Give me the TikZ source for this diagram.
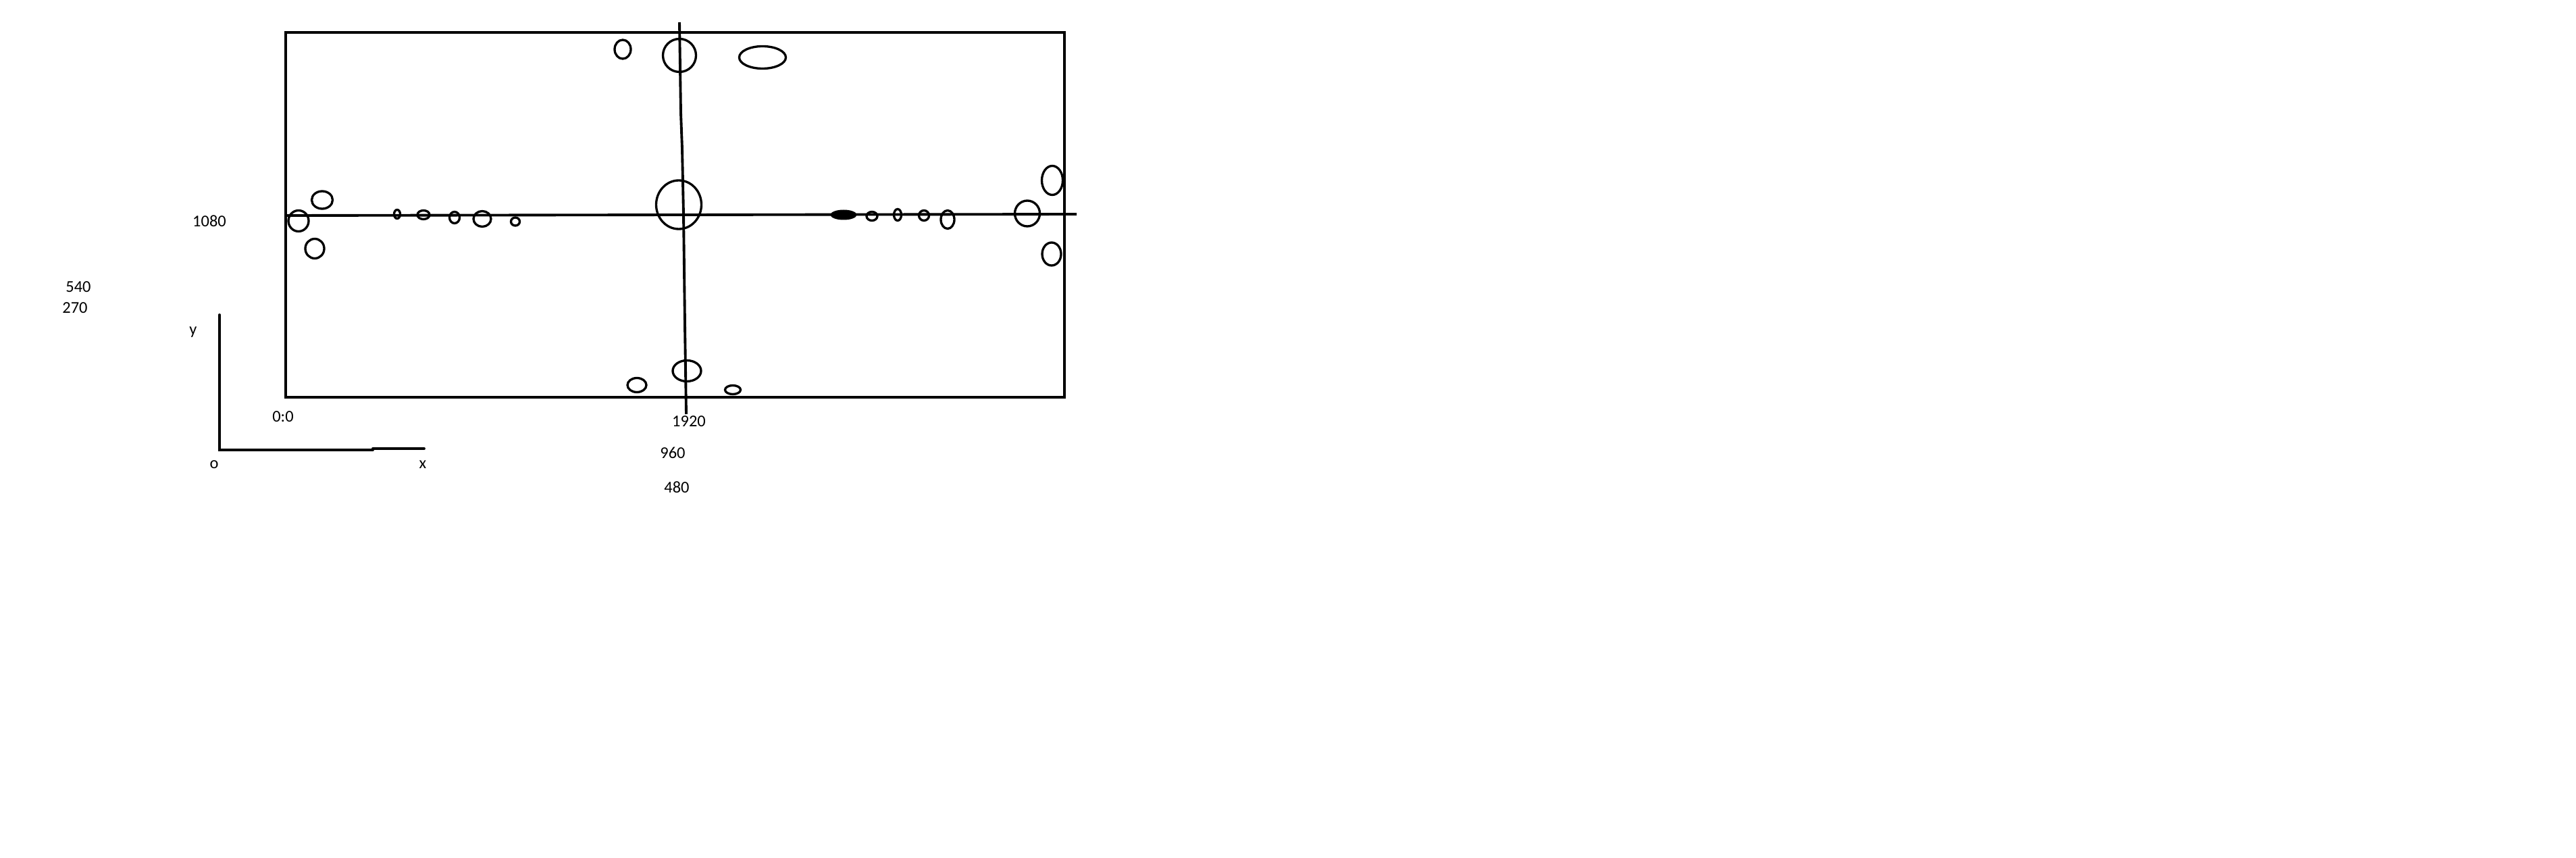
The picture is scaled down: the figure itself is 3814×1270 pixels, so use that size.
\documentclass[tikz,border=0pt]{standalone}
\usepackage{fontspec}
\setmainfont{Carlito}
\begin{document}
\begin{tikzpicture}[x=0.01cm, y=-0.01cm,
  frame/.style={line width=1.28pt},
  mainline/.style={line width=1.1pt},
  axisline/.style={line width=1.1pt, line cap=round},
  blob/.style={line width=0.95pt},
  lbl/.style={inner sep=0pt, anchor=base, font=\fontsize{6.95pt}{8pt}\selectfont}]
\useasboundingbox (0,0) rectangle (3814,1270);
\fill[white] (0,0) rectangle (3814,1270);

% frame
\draw[frame] (423,48) rectangle (1576,588);

% main horizontal and vertical lines
\coordinate (hL) at (425,319);
\coordinate (hR) at (1594,317);
\draw[mainline] (hL) -- (hR);
\coordinate (vT) at (1006,33);
\coordinate (v1) at (1008,167);
\coordinate (v2) at (1010,220);
\coordinate (v3) at (1012,317);
\coordinate (v4) at (1014,480);
\coordinate (vB) at (1016,613);
\draw[mainline] (vT) -- (v1) -- (v2) -- (v3) -- (v4) -- (vB);

% axes
\coordinate (aT) at (325,466);
\coordinate (aO) at (325,666);
\coordinate (aM1) at (552,666);
\coordinate (aM2) at (552,664);
\coordinate (aR) at (628,664);
\draw[axisline] (aT) -- (aO) -- (aM1);
\draw[axisline] (aM2) -- (aR);

% left cluster
\draw[blob] (442,327) ellipse [x radius=15, y radius=15.5];
\draw[blob] (477,296) ellipse [x radius=15.5, y radius=13];
\draw[blob] (466,368) ellipse [x radius=14, y radius=14.5];

% small ellipses on left half of line
\draw[blob] (588,317) ellipse [x radius=4.5, y radius=6.5];
\draw[blob] (627,318) ellipse [x radius=9, y radius=6.5];
\draw[blob] (673,322) ellipse [x radius=7.5, y radius=8.5];
\draw[blob] (714,324) ellipse [x radius=13, y radius=11.5];
\draw[blob] (763,328) ellipse [x radius=6.5, y radius=6];

% centre
\draw[blob] (1005,303) ellipse [x radius=33.5, y radius=36];

% top
\draw[blob] (922,73) ellipse [x radius=12, y radius=14];
\draw[blob] (1006,82) ellipse [x radius=24.5, y radius=24.5];
\draw[blob] (1129,85) ellipse [x radius=34.5, y radius=16.5];

% bottom
\draw[blob] (943,570) ellipse [x radius=14, y radius=10.5];
\draw[blob] (1017,549) ellipse [x radius=21, y radius=15.5];
\draw[blob] (1085,577) ellipse [x radius=11.5, y radius=6.5];

% right half of line
\fill (1249,318) ellipse [x radius=19.5, y radius=7.5];
\draw[blob] (1291,320) ellipse [x radius=8, y radius=6.5];
\draw[blob] (1329,318) ellipse [x radius=5.5, y radius=8.5];
\draw[blob] (1368,319) ellipse [x radius=7.5, y radius=7.5];
\draw[blob] (1403,325) ellipse [x radius=10, y radius=13.5];

% right cluster
\draw[blob] (1521,316) ellipse [x radius=18.5, y radius=19];
\draw[blob] (1558,267) ellipse [x radius=15.5, y radius=21.5];
\draw[blob] (1557,376) ellipse [x radius=14, y radius=17];

% labels
\node[lbl] (t1080) at (310,336) {1080};
\node[lbl] (t540) at (116,433) {540};
\node[lbl] (t270) at (111,464) {270};
\node[lbl] (ty) at (286,496) {y};
\node[lbl] (t00) at (419,625) {0:0};
\node[lbl] (to) at (317,693) {o};
\node[lbl] (tx) at (626,693) {x};
\node[lbl] (t1920) at (1020,632) {1920};
\node[lbl] (t960) at (996,679) {960};
\node[lbl] (t480) at (1002,729) {480};
\end{tikzpicture}
\end{document}
